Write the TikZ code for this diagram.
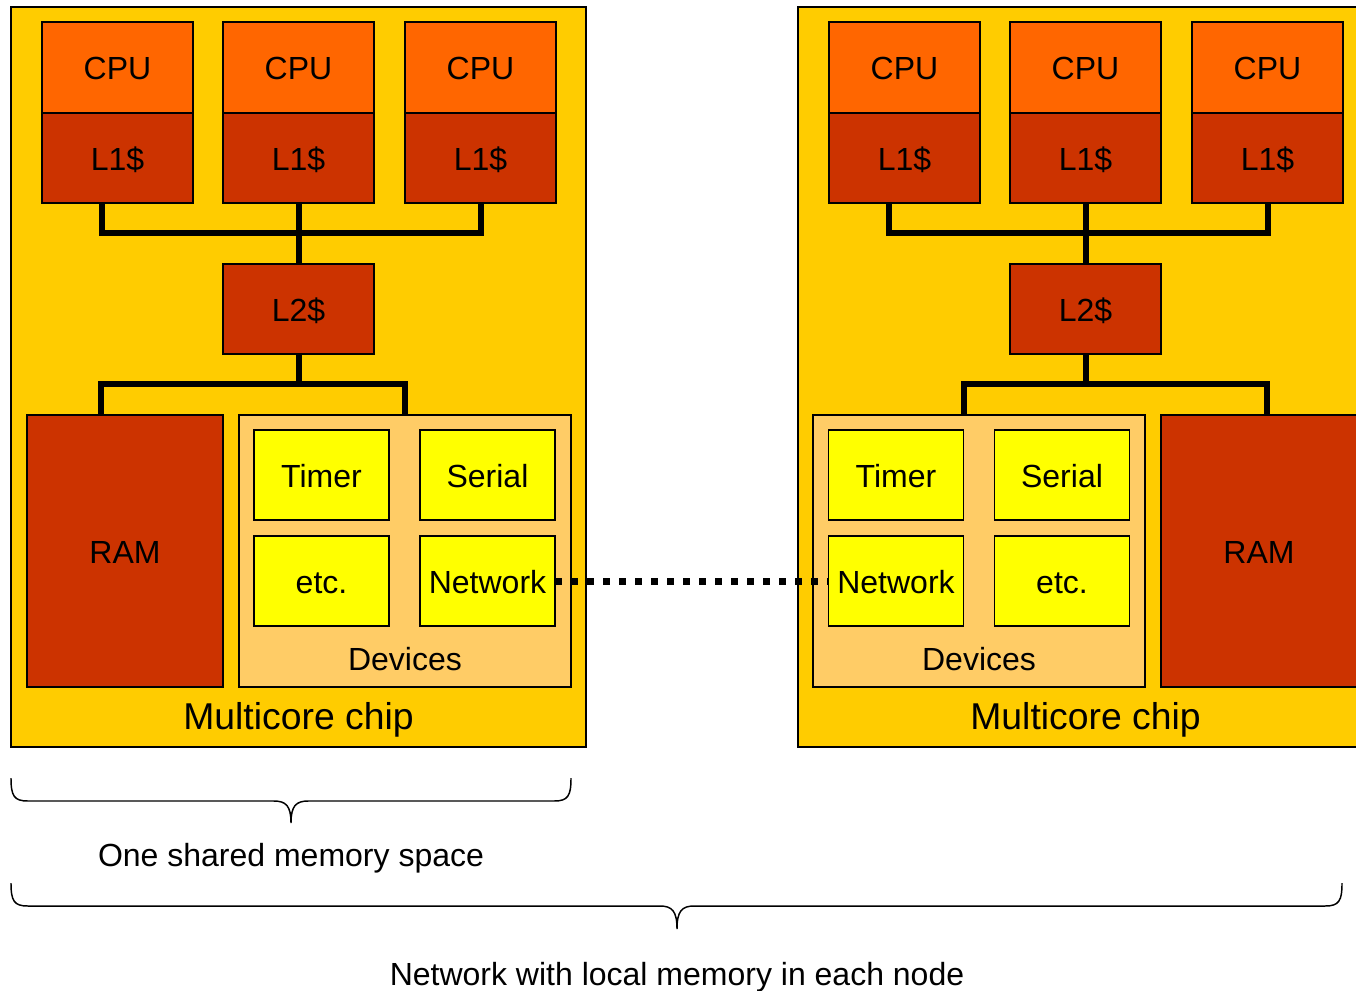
\documentclass[tikz,border=0pt]{standalone}
\usepackage{fontspec}
\setmainfont{Liberation Sans}
\definecolor{chipc}{HTML}{FFCC00}
\definecolor{cpuc}{HTML}{FF6600}
\definecolor{cachec}{HTML}{CC3300}
\definecolor{devc}{HTML}{FFCC66}
\definecolor{devboxc}{HTML}{FFFF00}
\begin{document}
\begin{tikzpicture}[x=0.75pt,y=-0.75pt,
  every node/.style={inner sep=0pt, outer sep=0pt, font=\fontsize{24}{28}\selectfont, text height=22pt, text depth=3.3pt},
  chip/.style={draw=black, line width=1.5pt, fill=chipc, minimum width=431.25pt, minimum height=555pt},
  cpubox/.style={draw=black, line width=1.1pt, fill=cpuc, minimum width=113.25pt, minimum height=68.25pt},
  cachebox/.style={draw=black, line width=1.1pt, fill=cachec, minimum width=113.25pt, minimum height=67.5pt},
  rambox/.style={draw=black, line width=1.1pt, fill=cachec, minimum width=147pt, minimum height=204pt},
  devsbox/.style={draw=black, line width=1.1pt, fill=devc, minimum width=249pt, minimum height=204pt},
  devbox/.style={draw=black, line width=1.1pt, fill=devboxc, minimum width=101.25pt, minimum height=67.5pt},
  bus/.style={line width=4.5pt},
  netlink/.style={line width=5.25pt, dash pattern=on 5.25pt off 6.75pt},
  bracepath/.style={line width=1.1pt},
  biglabel/.style={font=\fontsize{28}{32}\selectfont, text height=24.5pt, text depth=4.5pt}
]
\clip (0,0) rectangle (1356,990);
\fill[white] (0,0) rectangle (1356,990);

% ---------- left chip ----------
\node[chip] (lchip) at (298.5,377) {};
\node[cpubox] (lCPUa) at (117.5,67.5) {CPU};
\node[cpubox] (lCPUb) at (298.5,67.5) {CPU};
\node[cpubox] (lCPUc) at (480.5,67.5) {CPU};
\node[cachebox] (lL1a) at (117.5,158) {L1\$};
\node[cachebox] (lL1b) at (298.5,158) {L1\$};
\node[cachebox] (lL1c) at (480.5,158) {L1\$};
\node[cachebox] (lL2) at (298.5,309) {L2\$};
\node[rambox] (lRAM) at (125,551) {RAM};
\node[devsbox] (lDev) at (405,551) {};
\node[devbox] (lTimer) at (321.5,475) {Timer};
\node[devbox] (lSerial) at (487.5,475) {Serial};
\node[devbox] (lEtc) at (321.5,581) {etc.};
\node[devbox] (lNet) at (487.5,581) {Network};
\node (lDevLbl) at (405,658) {Devices};
\node[biglabel] (lChipLbl) at (298.5,716) {Multicore chip};

\coordinate (ljA) at (298.5,233);
\coordinate (ljB) at (298.5,384);
\draw[bus] ([xshift=-12pt]lL1a.south) |- (ljA) -| (lL1c.south);
\draw[bus] (lL1b.south) -- (lL2.north);
\draw[bus] (lL2.south) -- (ljB);
\draw[bus] ([xshift=-18pt]lRAM.north) |- (ljB) -| (lDev.north);

% ---------- right chip ----------
\node[chip] (rchip) at (1085.5,377) {};
\node[cpubox] (rCPUa) at (904.5,67.5) {CPU};
\node[cpubox] (rCPUb) at (1085.5,67.5) {CPU};
\node[cpubox] (rCPUc) at (1267.5,67.5) {CPU};
\node[cachebox] (rL1a) at (904.5,158) {L1\$};
\node[cachebox] (rL1b) at (1085.5,158) {L1\$};
\node[cachebox] (rL1c) at (1267.5,158) {L1\$};
\node[cachebox] (rL2) at (1085.5,309) {L2\$};
\node[devsbox] (rDev) at (979,551) {};
\node[rambox] (rRAM) at (1259,551) {RAM};
\node[devbox] (rTimer) at (896,475) {Timer};
\node[devbox] (rSerial) at (1062,475) {Serial};
\node[devbox] (rNet) at (896,581) {Network};
\node[devbox] (rEtc) at (1062,581) {etc.};
\node (rDevLbl) at (979,658) {Devices};
\node[biglabel] (rChipLbl) at (1085.5,716) {Multicore chip};

\coordinate (rjA) at (1085.5,233);
\coordinate (rjB) at (1085.5,384);
\draw[bus] ([xshift=-12pt]rL1a.south) |- (rjA) -| (rL1c.south);
\draw[bus] (rL1b.south) -- (rL2.north);
\draw[bus] (rL2.south) -- (rjB);
\draw[bus] ([xshift=-11.25pt]rDev.north) |- (rjB) -| ([xshift=6pt]rRAM.north);

% ---------- network link ----------
\draw[netlink] (lNet.east) -- (rNet.west);

% ---------- braces ----------
\draw[bracepath] (11,778) .. controls (11,796) and (14,801) .. (28,801)
  -- (274,801) .. controls (286,801) and (291,806) .. (291,823)
  .. controls (291,806) and (296,801) .. (308,801)
  -- (554,801) .. controls (568,801) and (571,796) .. (571,778);
\node (sharedLbl) at (291,854) {One shared memory space};

\draw[bracepath] (11,883) .. controls (11,901) and (14,906) .. (28,906)
  -- (660,906) .. controls (672,906) and (677,911) .. (677,929)
  .. controls (677,911) and (682,906) .. (694,906)
  -- (1325,906) .. controls (1339,906) and (1342,901) .. (1342,883);
\node (netLbl) at (677,973) {Network with local memory in each node};
\end{tikzpicture}
\end{document}
